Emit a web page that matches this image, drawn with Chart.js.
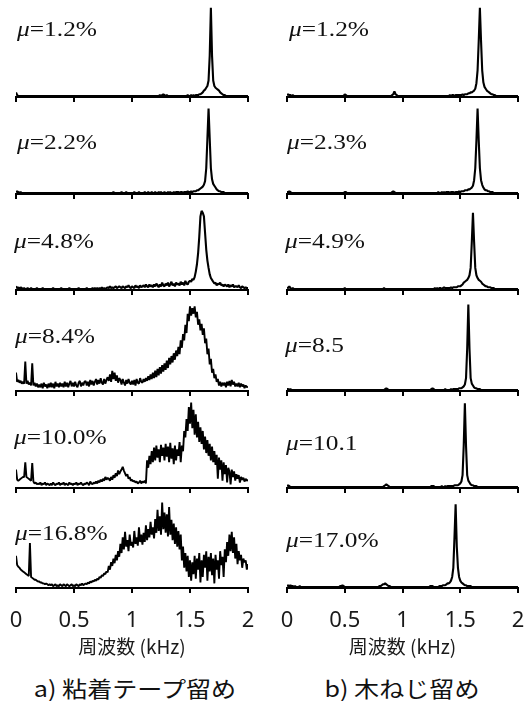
<!DOCTYPE html>
<html><head><meta charset="utf-8">
<script src="https://cdn.jsdelivr.net/npm/chart.js@4"></script>
<style>
html,body{margin:0;padding:0;background:#fff;width:525px;height:701px;overflow:hidden;position:relative}
canvas{position:absolute}
.mu{position:absolute;font-family:"Liberation Serif",serif;font-size:20px;line-height:20px;color:#111;transform:scaleX(1.27);transform-origin:0 0;white-space:nowrap}
.cap{position:absolute;font-family:"Noto Sans CJK JP",sans-serif;font-size:22px;line-height:22px;color:#111;text-align:center;transform:scaleX(1.14);transform-origin:50% 0;white-space:nowrap}
</style></head><body>
<script>
// ---------- data ----------
const freq = [
0,0.01,0.02,0.03,0.04,0.05,0.06,0.07,0.08,0.09,
0.1,0.11,0.12,0.13,0.14,0.15,0.16,0.17,0.18,0.19,
0.2,0.21,0.22,0.23,0.24,0.25,0.26,0.27,0.28,0.29,
0.3,0.31,0.32,0.33,0.34,0.35,0.36,0.37,0.38,0.39,
0.4,0.41,0.42,0.43,0.44,0.45,0.46,0.47,0.48,0.49,
0.5,0.51,0.52,0.53,0.54,0.55,0.56,0.57,0.58,0.59,
0.6,0.61,0.62,0.63,0.64,0.65,0.66,0.67,0.68,0.69,
0.7,0.71,0.72,0.73,0.74,0.75,0.76,0.77,0.78,0.79,
0.8,0.81,0.82,0.83,0.84,0.85,0.86,0.87,0.88,0.89,
0.9,0.91,0.92,0.93,0.94,0.95,0.96,0.97,0.98,0.99,
1,1.01,1.02,1.03,1.04,1.05,1.06,1.07,1.08,1.09,
1.1,1.11,1.12,1.13,1.14,1.15,1.16,1.17,1.18,1.19,
1.2,1.21,1.22,1.23,1.24,1.25,1.26,1.27,1.28,1.29,
1.3,1.31,1.32,1.33,1.34,1.35,1.36,1.37,1.38,1.39,
1.4,1.41,1.42,1.43,1.44,1.45,1.46,1.47,1.48,1.49,
1.5,1.51,1.52,1.53,1.54,1.55,1.56,1.57,1.58,1.59,
1.6,1.61,1.62,1.63,1.64,1.65,1.66,1.67,1.68,1.69,
1.7,1.71,1.72,1.73,1.74,1.75,1.76,1.77,1.78,1.79,
1.8,1.81,1.82,1.83,1.84,1.85,1.86,1.87,1.88,1.89,
1.9,1.91,1.92,1.93,1.94,1.95,1.96,1.97,1.98,1.99,
2];

// a) adhesive tape (left column)
const ampA1 = [
5,2,1,1,1,1,1,1,1,1,
1,1,1,1,1,1,1,1,1,1,
1,1,1,1,1,1,1,1,1,1,
1,1,1,1,1,1,1,1,1,1,
1,1,1,1,1,1,1,1,1,1,
1,1,1,1,1,1,1,1,1,1,
1,1,1,1,1,1,1,1,1,1,
1,1,1,1,1,1,1,1,1,1,
1,1,1,1,1,1,1,1,1,1,
1,1,1,1,1,1,1,1,1,1,
1,1,1,1,1,1,1,1,1,1,
1,1,1,1,1,1,1,1,1,1,
1,1,1,1,2,1,2,3,2,1,
2,1,1,1,1,1,1,1,1,1,
1,1,1,1,1,1,1,1,2,1,
1,2,1,2,1,2,2,2,3,3,
4,5,7,8,10,12,18,45,97,45,
18,12,10,9,8,7,5,4,3,2,
2,1,1,1,1,1,1,1,1,1,
1,1,1,1,1,1,1,1,1,1,
1];
const ampA2 = [
2,3,2,1,2,1,1,1,1,1,
1,1,1,1,1,1,1,1,1,1,
1,1,1,1,1,1,1,1,1,1,
1,1,1,1,1,1,1,1,1,1,
1,1,1,1,1,1,1,1,1,1,
1,1,1,1,1,1,1,1,1,1,
1,1,1,1,1,1,1,1,1,1,
1,1,1,1,1,1,1,1,1,1,
1,1,1,1,2,1,1,1,1,1,
1,2,1,1,1,2,1,1,1,1,
1,1,2,1,1,1,2,1,1,1,
1,2,1,1,2,1,1,2,1,1,
2,1,1,2,1,2,1,1,2,1,
1,2,1,2,1,1,2,1,2,2,
2,1,2,2,1,2,2,2,3,2,
2,3,2,3,3,3,4,4,5,6,
7,8,10,14,28,60,93,60,28,16,
11,9,7,5,4,3,3,2,2,2,
1,1,1,1,1,1,1,1,1,1,
1,1,1,1,1,1,1,1,1,1,
1];
const ampA3 = [
4,2,3,1,3,2,1,2,1,1,
2,1,1,2,1,1,1,1,2,1,
1,1,1,2,1,1,1,1,1,1,
1,1,2,1,1,1,1,1,1,2,
1,1,1,1,1,1,2,1,1,1,
1,1,1,1,2,1,1,1,1,1,
1,2,1,1,1,1,2,1,2,1,
2,1,2,1,3,1,2,1,2,3,
2,4,2,3,2,3,4,2,3,4,
3,2,4,3,2,4,3,5,3,2,
4,3,2,5,3,4,2,5,3,4,
5,3,6,4,3,6,4,5,3,6,
4,7,5,3,6,4,8,5,4,7,
5,8,4,6,9,5,7,4,8,6,
7,5,9,6,8,5,10,7,6,9,
10,9,12,11,14,20,28,40,58,80,
86,84,80,62,44,32,24,17,13,11,
9,7,8,5,7,6,8,5,6,4,
6,5,4,6,3,5,4,6,3,4,
4,3,5,3,2,4,3,2,3,2,
2];
const ampA4 = [
20,10,12,9,11,8,10,8,32,8,
11,7,9,6,30,6,9,5,8,4,
7,4,8,3,9,5,7,3,8,4,
9,4,8,3,10,5,8,4,9,5,
8,4,10,5,9,4,8,11,5,9,
5,10,6,4,9,11,5,9,6,10,
11,6,10,5,12,7,11,6,10,13,
7,12,8,14,9,7,13,8,12,15,
11,18,10,22,13,20,11,17,9,14,
12,7,13,9,6,12,8,13,9,7,
11,7,12,6,13,9,8,14,10,9,
13,10,14,11,16,12,18,13,20,14,
22,15,24,17,26,19,28,21,30,23,
33,25,36,29,38,31,41,34,44,38,
48,40,55,47,62,55,72,63,84,76,
92,82,90,84,92,80,86,72,78,66,
73,61,68,52,57,40,46,29,35,20,
24,14,18,10,13,6,10,5,9,6,
9,4,10,6,11,5,12,7,10,5,
8,5,9,4,8,5,7,3,6,4,
5];
const ampA5 = [
20,9,8,9,10,11,12,12,28,12,
11,10,9,8,27,7,5,6,4,5,
4,6,3,5,4,6,3,5,4,3,
5,3,6,4,3,5,4,6,3,5,
4,6,3,5,4,3,6,4,5,3,
5,4,6,3,5,4,6,4,3,5,
4,6,5,3,7,5,4,6,5,7,
5,8,6,9,7,10,8,12,9,11,
10,8,12,9,14,11,16,13,19,15,
18,20,23,19,16,13,15,10,12,8,
9,7,8,6,7,5,6,8,5,7,
6,8,5,30,22,35,26,40,28,44,
30,46,33,42,28,47,35,44,30,48,
34,45,28,49,32,43,26,46,30,42,
35,50,28,46,40,62,55,75,62,88,
70,93,65,85,58,80,55,72,50,66,
48,62,42,56,38,52,35,48,30,45,
28,40,25,36,10,33,20,30,8,28,
15,25,6,22,18,4,20,12,18,8,
15,10,14,6,12,9,11,7,10,8,
9];
const ampA6 = [
35,25,23,22,20,19,18,17,16,15,
14,13,49,12,11,10,9,9,8,7,
7,6,6,5,5,4,5,4,3,4,
3,4,2,3,4,2,3,2,4,3,
2,4,3,2,4,3,2,3,4,2,
3,2,4,3,2,4,3,5,3,4,
5,4,6,5,7,6,8,7,9,8,
10,9,12,11,14,13,16,15,18,17,
24,20,28,24,32,27,36,30,40,34,
48,38,55,42,61,45,52,40,58,46,
50,44,62,48,55,46,66,50,58,47,
60,50,68,52,64,55,72,58,66,54,
75,60,85,62,78,58,93,64,82,60,
80,56,88,58,74,52,70,48,66,45,
62,42,58,30,45,22,38,18,35,12,
30,8,28,15,35,10,32,20,38,6,
30,12,36,22,40,8,34,18,38,14,
32,5,36,20,30,10,40,25,34,12,
42,28,50,35,58,40,61,38,55,32,
48,26,40,30,36,22,32,28,30,20,
26];

// b) wood screws (right column)
const ampB1 = [
2,3,2,2,1,2,1,1,1,1,
1,1,1,1,1,1,1,1,1,1,
1,1,1,1,1,1,1,1,1,1,
1,1,1,1,1,1,1,1,1,1,
1,1,1,1,1,1,1,1,1,1,
3,2,1,1,1,1,1,1,1,1,
1,1,1,1,1,1,1,1,1,1,
1,1,1,1,1,1,1,1,1,1,
1,1,1,1,1,1,1,1,1,1,
1,2,3,6,3,2,1,1,1,1,
1,1,1,1,1,1,1,1,1,1,
1,1,1,1,1,1,1,1,1,1,
1,1,1,1,1,1,1,1,1,1,
1,1,1,1,1,1,1,1,1,1,
1,2,1,2,2,1,2,2,2,2,
2,2,3,2,3,3,3,4,4,5,
5,6,7,9,15,29,61,97,61,29,
16,11,9,7,6,5,4,3,3,2,
2,1,1,1,1,1,1,1,1,1,
1,1,1,1,1,1,1,1,1,1,
1];
const ampB2 = [
2,2,3,2,1,1,1,1,1,1,
1,1,1,1,1,1,1,1,1,1,
1,1,1,1,1,1,1,1,1,1,
1,1,1,1,1,1,1,1,1,1,
1,1,1,1,1,1,1,1,1,1,
2,2,1,1,1,1,1,1,1,1,
1,1,1,1,1,1,1,1,1,1,
1,1,1,1,1,1,1,1,1,1,
1,1,1,1,1,1,1,1,1,1,
1,2,3,2,1,1,1,1,1,1,
1,1,1,1,1,1,1,1,1,1,
1,1,1,1,1,1,1,1,1,1,
1,1,1,1,1,1,1,1,1,1,
1,2,1,1,2,1,2,1,2,2,
2,1,2,2,2,1,2,2,2,3,
2,3,3,3,4,4,4,5,5,6,
7,9,15,28,58,93,58,28,15,10,
7,5,4,4,3,3,2,2,2,1,
1,1,1,1,1,1,1,1,1,1,
1,1,1,1,1,1,1,1,1,1,
1];
const ampB3 = [
3,2,4,2,1,2,1,1,1,1,
1,1,1,1,1,1,1,1,1,1,
1,1,1,1,1,1,1,1,1,1,
1,1,1,1,1,1,1,1,1,1,
1,1,1,1,1,1,1,1,1,1,
2,1,1,1,1,1,1,1,1,1,
1,1,1,1,1,1,1,1,1,1,
1,1,1,1,1,1,1,1,1,1,
1,1,1,1,2,1,1,1,1,1,
1,1,1,1,1,1,1,1,1,1,
1,1,1,1,1,1,1,1,1,1,
1,1,1,1,1,1,1,1,1,1,
1,1,1,1,1,1,1,1,2,1,
2,1,2,2,1,2,3,2,2,2,
2,2,3,2,3,3,3,3,4,4,
4,5,6,8,9,10,11,13,16,24,
52,84,52,24,16,13,11,10,9,7,
6,5,4,4,3,3,3,2,2,2,
1,1,1,1,1,1,1,1,1,1,
1,1,1,1,1,1,1,1,1,1,
1];
const ampB4 = [
2,2,1,2,1,1,1,1,1,1,
1,1,1,1,1,1,1,1,1,1,
1,1,1,1,1,1,1,1,1,1,
1,1,1,1,1,1,1,1,1,1,
1,1,1,1,1,1,1,1,1,1,
1,1,1,1,1,1,1,1,1,1,
1,1,1,1,1,1,1,1,1,1,
1,1,1,1,1,1,1,1,1,1,
1,1,1,1,1,2,3,2,1,1,
1,1,1,1,1,1,1,1,1,1,
1,1,1,1,1,1,1,1,1,1,
1,1,1,1,1,1,1,1,1,1,
1,1,1,1,1,2,3,2,1,1,
1,1,1,1,1,1,1,2,1,1,
1,1,2,1,2,2,2,2,2,3,
3,3,4,5,7,14,46,94,46,14,
8,6,4,3,3,2,2,2,1,1,
1,1,1,1,1,1,1,1,1,1,
1,1,1,1,1,1,1,1,1,1,
1,1,1,1,1,1,1,1,1,1,
1];
const ampB5 = [
2,3,2,1,1,1,1,1,1,1,
1,1,1,1,1,1,1,1,1,1,
1,1,1,1,1,1,1,1,1,1,
1,1,1,1,1,1,1,1,1,1,
1,1,1,1,1,1,1,1,1,1,
1,1,1,1,1,1,1,1,1,1,
1,1,1,1,1,1,1,1,1,1,
1,1,1,1,1,1,1,1,1,1,
1,1,1,1,2,3,4,3,2,1,
1,1,1,1,1,1,1,1,1,1,
1,1,1,1,1,1,1,1,1,1,
1,1,1,1,1,1,1,1,1,1,
1,1,1,1,1,2,2,2,1,1,
1,1,1,1,2,1,1,2,1,2,
2,2,2,2,2,3,3,3,3,4,
5,7,14,46,92,46,14,8,6,4,
3,3,2,2,2,1,1,1,1,1,
1,1,1,1,1,1,1,1,1,1,
1,1,1,1,1,1,1,1,1,1,
1,1,1,1,1,1,1,1,1,1,
1];
const ampB6 = [
2,3,2,3,2,2,1,2,1,1,
1,2,1,1,1,1,1,1,1,1,
1,1,1,1,1,1,1,1,1,1,
1,1,1,1,1,1,1,1,1,1,
1,1,1,1,1,1,2,2,3,2,
1,1,1,1,1,1,1,1,1,1,
1,1,1,1,1,1,1,1,1,1,
1,1,1,1,1,1,1,1,1,1,
2,2,3,4,4,5,4,3,2,2,
1,1,1,1,1,1,1,1,1,1,
1,1,1,1,1,1,1,1,1,1,
1,1,1,1,1,1,1,1,1,1,
1,1,1,1,2,2,2,1,1,1,
1,1,2,2,2,3,3,3,4,5,
5,6,8,12,22,55,91,45,22,12,
8,6,5,4,3,3,2,2,2,2,
1,1,1,1,1,1,1,1,1,1,
1,1,1,1,1,1,1,1,1,1,
1,1,1,1,1,1,1,1,1,1,
1,1,1,1,1,1,1,1,1,1,
1];

const muLabelsA = ['1.2%','2.2%','4.8%','8.4%','10.0%','16.8%'];
const muLabelsB = ['1.2%','2.3%','4.9%','8.5','10.1','17.0%'];
const tickValues = [0,0.5,1,1.5,2];
const tickLabels = ['0','0.5','1','1.5','2'];
const axisTitle = '周波数 (kHz)';
const captions = ['a) 粘着テープ留め','b) 木ねじ留め'];

// ---------- layout ----------
const seriesA = [ampA1,ampA2,ampA3,ampA4,ampA5,ampA6];
const seriesB = [ampB1,ampB2,ampB3,ampB4,ampB5,ampB6];
const baselines = [97,194,290,391,488,588];
const plotH = 92;
const labelBaseA = [36,149,248,343,444,540];
const labelBaseB = [36,149,248,352,450,547];
const labelLeftA = [17,17,14,15,14,15];
const labelLeftB = [289,287,285,285,286,286];

function makePanel(col,row,data){
  const isBottom = row===5;
  const left = col===0?0:262, width = col===0?262:263;
  const padL = col===0?16:25, padR = col===0?14:7;
  const axisH = isBottom?70:6;
  const top = baselines[row]-plotH;
  const cv = document.createElement('canvas');
  cv.width = width; cv.height = plotH+axisH;
  cv.style.left = left+'px'; cv.style.top = top+'px';
  cv.style.width = width+'px'; cv.style.height = (plotH+axisH)+'px';
  document.body.appendChild(cv);
  const noisy = (col===0 && row>=3);
  new Chart(cv,{
    type:'line',
    data:{labels:freq,datasets:[{data:data,borderColor:'#000',borderWidth:noisy?1.9:2.1,pointRadius:0,tension:0,fill:false,borderJoinStyle:'bevel'}]},
    options:{
      responsive:false,animation:false,devicePixelRatio:1,
      layout:{padding:{left:padL,right:padR,top:0,bottom:0}},
      plugins:{legend:{display:false},tooltip:{enabled:false},title:{display:false}},
      scales:{
        x:{type:'linear',min:0,max:2,
          border:{display:true,color:'#000',width:2},
          grid:{display:true,drawOnChartArea:false,drawTicks:true,tickLength:5,color:'#000',lineWidth:2},
          afterBuildTicks:(s)=>{s.ticks=tickValues.map(v=>({value:v}));},
          ticks:{display:isBottom,autoSkip:false,maxRotation:0,padding:15,color:'#1a1a1a',
            font:{family:'"Noto Sans", sans-serif',size:22},
            callback:(v,i)=>tickLabels[i]},
          title:{display:isBottom,text:axisTitle,color:'#1a1a1a',
            font:{family:'"Noto Sans CJK JP", sans-serif',size:19},padding:{top:0,bottom:0}},
          afterFit:(s)=>{s.height=axisH;s.paddingLeft=0;s.paddingRight=0;}
        },
        y:{display:false,min:0,max:100}
      }
    }
  });
}

for(let r=0;r<6;r++){ makePanel(0,r,seriesA[r]); makePanel(1,r,seriesB[r]); }

function addLabel(x,yBase,txt){
  const d=document.createElement('div');
  d.className='mu';
  d.style.left=x+'px'; d.style.top=(yBase-17)+'px';
  d.innerHTML='<i>μ</i>='+txt;
  document.body.appendChild(d);
}
for(let r=0;r<6;r++){
  addLabel(labelLeftA[r],labelBaseA[r],muLabelsA[r]);
  addLabel(labelLeftB[r],labelBaseB[r],muLabelsB[r]);
}
[[0,captions[0]],[267,captions[1]]].forEach(([x,t])=>{
  const d=document.createElement('div');
  d.className='cap';
  d.style.left=x+'px'; d.style.width='270px'; d.style.top='676px';
  d.textContent=t;
  document.body.appendChild(d);
});
</script>
</body></html>
